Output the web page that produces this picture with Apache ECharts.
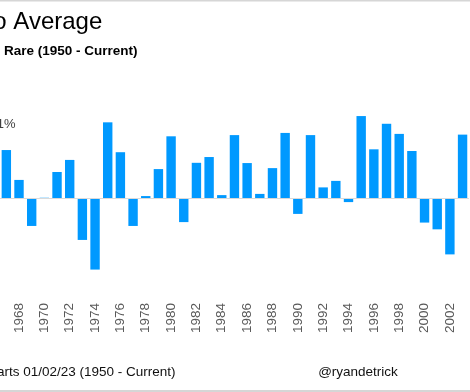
<!DOCTYPE html>
<html>
<head>
<meta charset="utf-8">
<script src="https://cdn.jsdelivr.net/npm/echarts@6/dist/echarts.min.js"></script>
<style>
html,body{margin:0;padding:0;background:#fff;}
#chart{width:470px;height:392px;}
</style>
</head>
<body>
<div id="chart"></div>
<script>
// Categories (years visible in the crop)
var years = ['1967','1968','1969','1970','1971','1972','1973','1974','1975','1976','1977','1978','1979','1980','1981','1982','1983','1984','1985','1986','1987','1988','1989','1990','1991','1992','1993','1994','1995','1996','1997','1998','1999','2000','2001','2002','2003'];
// Annual returns (%)
var returns = [19.9, 7.5, -11.6, 0.1, 10.8, 15.8, -17.4, -29.7, 31.4, 19.0, -11.6, 0.8, 12.0, 25.6, -10.0, 14.6, 17.0, 1.2, 26.1, 14.5, 1.7, 12.4, 27.0, -6.6, 26.1, 4.4, 7.1, -1.7, 34.0, 20.2, 30.8, 26.6, 19.5, -10.2, -13.0, -23.4, 26.3];
// Texts
var titleText = 'o Average';
var subtitleText = 'Rare (1950 - Current)';
var noteText = '1%';
var sourceText = 'arts 01/02/23 (1950 - Current)';
var handleText = '@ryandetrick';

var chart = echarts.init(document.getElementById('chart'), null, {renderer: 'canvas'});
var FONT = '"Liberation Sans", Arial, sans-serif';
chart.setOption({
  backgroundColor: '#ffffff',
  animation: false,
  grid: {left: -1.7, right: 1.1, top: 101.6, bottom: 97.6, containLabel: false},
  xAxis: {
    type: 'category',
    data: years,
    boundaryGap: true,
    axisLine: {show: false, onZero: false},
    axisTick: {show: false},
    axisLabel: {
      rotate: 90,
      margin: 8.5,
      color: '#595959',
      fontSize: 13.5,
      fontFamily: FONT,
      interval: function (idx, val) { return parseInt(val, 10) % 2 === 0; }
    }
  },
  yAxis: {
    type: 'value',
    min: -40,
    max: 40,
    interval: 20,
    show: false,
    splitLine: {show: false}
  },
  series: [{
    type: 'bar',
    data: returns,
    barWidth: 9.4,
    itemStyle: {color: '#0099FF'},
    markLine: {
      silent: true,
      symbol: ['none', 'none'],
      label: {show: false},
      lineStyle: {color: '#d9d9d9', width: 1, type: 'solid'},
      data: [{yAxis: 0}]
    }
  }],
  graphic: [
    {type: 'rect', shape: {x: 0, y: 0, width: 470, height: 1.5}, style: {fill: '#d6d6d6'}},
    {type: 'rect', shape: {x: 0, y: 390, width: 470, height: 2}, style: {fill: '#d6d6d6'}},
    {type: 'text', x: -6.7, y: 22, style: {text: titleText, font: '24px ' + FONT, fill: '#000000', textAlign: 'left', textVerticalAlign: 'middle'}},
    {type: 'text', x: 4, y: 51, style: {text: subtitleText, font: 'bold 13.5px ' + FONT, fill: '#000000', textAlign: 'left', textVerticalAlign: 'middle'}},
    {type: 'text', x: 15.5, y: 124, style: {text: noteText, font: '13px ' + FONT, fill: '#404040', textAlign: 'right', textVerticalAlign: 'middle'}},
    {type: 'text', x: 175.5, y: 372.5, style: {text: sourceText, font: '13.5px ' + FONT, fill: '#111111', textAlign: 'right', textVerticalAlign: 'middle'}},
    {type: 'text', x: 358, y: 372.5, style: {text: handleText, font: '13.5px ' + FONT, fill: '#111111', textAlign: 'center', textVerticalAlign: 'middle'}}
  ]
});
</script>
</body>
</html>
